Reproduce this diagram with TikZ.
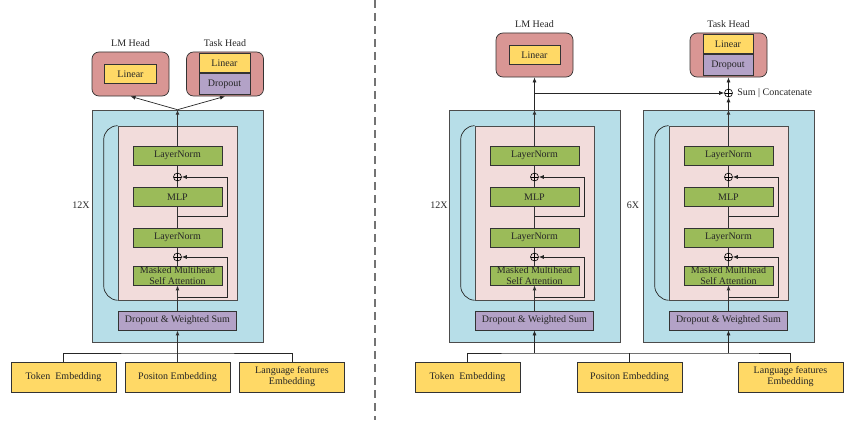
\documentclass[tikz,border=0pt]{standalone}
\usepackage{fontspec}
\setmainfont{Liberation Serif}
\usetikzlibrary{arrows.meta,calc}

\definecolor{bluefill}{HTML}{B7DEE8}
\definecolor{pinkfill}{HTML}{F2DCDB}
\definecolor{rosefill}{HTML}{D99694}
\definecolor{yellowfill}{HTML}{FFD966}
\definecolor{greenfill}{HTML}{9BBB59}
\definecolor{purplefill}{HTML}{B3A2C7}

\tikzset{
  txt/.style={font=\fontsize{10}{11}\selectfont, text=black!85},
  blk/.style={txt, draw=black!80, line width=0.7pt, inner sep=1pt},
  greenblk/.style={blk, fill=greenfill, minimum width=89, minimum height=19},
  yellowblk/.style={blk, fill=yellowfill, minimum height=19},
  purpleblk/.style={blk, fill=purplefill, minimum height=19},
  embblk/.style={blk, fill=yellowfill, minimum width=105, minimum height=30, align=center},
  headbox/.style={draw=black!80, line width=0.7pt, fill=rosefill, rounded corners=7,
    minimum width=77, minimum height=44},
  headlbl/.style={txt, label distance=2pt},
  bluebox/.style={draw=black!70, line width=0.6pt, fill=bluefill, minimum width=171, minimum height=232},
  pinkbox/.style={draw=black!70, line width=0.6pt, fill=pinkfill, minimum width=119, minimum height=174},
  oplus/.style={circle, draw=black, line width=0.6pt, inner sep=0pt, minimum size=8,
    path picture={\draw[line width=0.6pt] (path picture bounding box.north) -- (path picture bounding box.south)
      (path picture bounding box.west) -- (path picture bounding box.east);}},
  line/.style={draw=black!85, line width=0.7pt},
  spine/.style={draw=black!80, line width=1pt},
  >={Latex[length=5pt,width=4pt]}
}

% one stack: prefix, centre x, repeat label, label x
\newcommand\encstack[4]{%
  \node[bluebox] (#1blue) at (#2,226) {};
  \node[pinkbox] (#1pink) at (#2,213) {};
  \node[greenblk] (#1lna) at (#2,155.5) {LayerNorm};
  \node[oplus] (#1opa) at (#2,177) {};
  \node[greenblk] (#1mlp) at (#2,197) {MLP};
  \node[greenblk] (#1lnb) at (#2,237.5) {LayerNorm};
  \node[oplus] (#1opb) at (#2,257) {};
  \node[greenblk, label={[txt, align=center]center:{Masked Multihead\\Self Attention}}] (#1attn) at (#2,275.5) {};
  \node[purpleblk, minimum width=118] (#1drop) at (#2,320.5) {Dropout \& Weighted Sum};
  \node[txt] (#1rep) at (#4,205) {#3};
  \coordinate (#1ska) at (#2,216);
  \coordinate (#1skb) at (#2,297);
  % main flow
  \draw[spine,->] (#1drop) -- (#1attn);
  \draw[spine] (#1attn) -- (#1opb) -- (#1lnb) -- (#1mlp) -- (#1opa) -- (#1lna);
  \draw[spine,->] (#1lna) -- (#1blue.north);
  % residuals
  \draw[line,->] (#1ska) -- ++(49.5,0) |- (#1opa);
  \draw[line,->] (#1skb) -- ++(49.5,0) |- (#1opb);
  % repeat bracket
  \draw[line, rounded corners=14] (#1pink.north west) -- ++(-14,0) -- ++(0,174) -- (#1pink.south west);
}

\begin{document}
\begin{tikzpicture}[x=1pt, y=-1pt]
  \useasboundingbox (0,0) rectangle (845,420);

  % separator
  \draw[black!55, line width=1.2pt, dash pattern=on 8pt off 5pt] (375,0) -- (375,420);

  %%%%% left: single stack %%%%%
  \encstack{l}{177.5}{12X}{81}

  \node[headbox, label={[headlbl]above:LM Head}] (llm) at (130.5,74) {};
  \node[yellowblk, minimum width=52] (llmlin) at (llm) {Linear};
  \node[headbox, label={[headlbl]above:Task Head}] (ltask) at (225,74) {};
  \node[yellowblk, minimum width=51, anchor=south] (ltasklin) at (224.5,73) {Linear};
  \node[purpleblk, minimum width=51, minimum height=21, anchor=north] (ltaskdrop) at (224.5,73) {Dropout};

  \draw[line,->] (lblue.north) -- (llm.south);
  \draw[line,->] (lblue.north) -- (ltask.south);

  \node[embblk] (ltok) at (63.5,377) {Token~ Embedding};
  \node[embblk] (lpos) at (177.5,377) {Positon Embedding};
  \node[embblk] (llang) at (292,377) {Language features\\Embedding};
  \coordinate (lbus) at (177.5,353);
  \draw[line] (ltok) |- (lbus) -| (llang);
  \draw[spine] (lpos) -- (lbus);
  \draw[spine,->] (lbus) -- (ldrop);

  %%%%% right: two stacks %%%%%
  \encstack{ra}{534.5}{12X}{439}
  \encstack{rb}{728.5}{6X}{633}

  \node[headbox, label={[headlbl]above:LM Head}] (rlm) at (534.5,55) {};
  \node[yellowblk, minimum width=51] (rlmlin) at (rlm) {Linear};
  \node[headbox, label={[headlbl]above:Task Head}] (rtask) at (728.5,55) {};
  \node[yellowblk, minimum width=50, anchor=south] (rtasklin) at (728,54) {Linear};
  \node[purpleblk, minimum width=50, minimum height=21, anchor=north] (rtaskdrop) at (728,54) {Dropout};

  \node[oplus, label={[txt, label distance=1pt]right:Sum | Concatenate}] (rsum) at (728.5,93) {};
  \coordinate (rjoin) at (534.5,93);
  \draw[line,->] (rablue.north) -- (rlm.south);
  \draw[line,->] (rjoin) -- (rsum);
  \draw[line,->] (rbblue.north) -- (rsum);
  \draw[line,->] (rsum) -- (rtask.south);

  \node[embblk] (rtok) at (467.5,377) {Token~ Embedding};
  \node[embblk] (rpos) at (629.5,377) {Positon Embedding};
  \node[embblk] (rlang) at (790.5,377) {Language features\\Embedding};
  \coordinate (rbus) at (629.5,353);
  \coordinate (rbusa) at (534.5,353);
  \coordinate (rbusb) at (728.5,353);
  \draw[line] (rtok) |- (rbusa) -- (rbusb) -| (rlang);
  \draw[line] (rpos) -- (rbus);
  \draw[line,->] (rbusa) -- (radrop);
  \draw[line,->] (rbusb) -- (rbdrop);
\end{tikzpicture}
\end{document}
